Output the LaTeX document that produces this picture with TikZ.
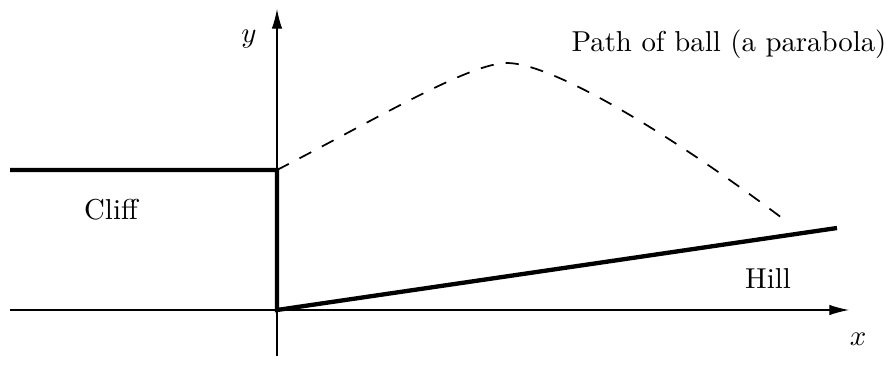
\documentclass[tikz,border=0pt]{standalone}
\usetikzlibrary{arrows.meta}
\begin{document}
\begin{tikzpicture}[x=0.0122cm, y=-0.0122cm, >={Latex[length=6.8pt,width=3.6pt]}]
  \tikzset{ground/.style={line width=1.5pt, line join=miter},
           axis/.style={->, line width=0.4pt}}
  \useasboundingbox (0,0) rectangle (891,367);
  % Axes
  \coordinate (xl) at (10,310);
  \coordinate (xr) at (849,310);
  \coordinate (yb) at (277,356);
  \coordinate (yt) at (277,9);
  \draw[axis] (xl) -- (xr);
  \draw[axis] (yb) -- (yt);
  \node (xlab) at (858,339) {$x$};
  \node (ylab) at (249,39) {$y$};

  % Cliff and hill
  \coordinate (C0) at (10,170);
  \coordinate (C1) at (277,170);
  \coordinate (O) at (277,310);
  \coordinate (H) at (837,228);
  \draw[ground] (C0) -- (C1) -- (O) -- (H);
  \node (cliff) at (111,210) {Cliff};
  \node (hill) at (768,279) {Hill};

  % Path of ball
  \coordinate (top) at (507,63);
  \coordinate (B) at (782,218);
  \draw[dash pattern=on 4.6pt off 4.2pt, line width=0.6pt]
    (C1) .. controls (380,117) and (470,63) .. (top)
         .. controls (550,63) and (662,128) .. (B);
  \node (path) at (729,44) {Path of ball (a parabola)};
\end{tikzpicture}
\end{document}
